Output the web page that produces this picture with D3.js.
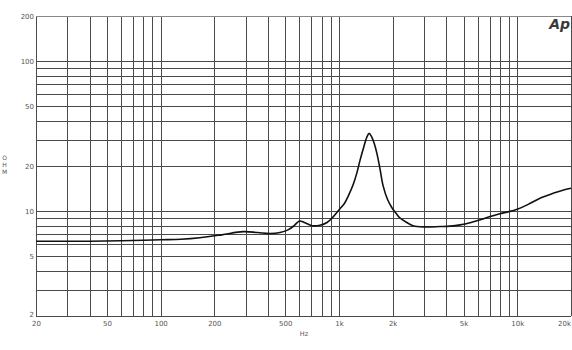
<!DOCTYPE html>
<html>
<head>
<meta charset="utf-8">
<script src="https://cdn.jsdelivr.net/npm/d3@7"></script>
<style>
  body { margin: 0; background: #fff; }
  svg { display: block; }
</style>
</head>
<body>
<div id="container"></div>
<script>
// impedance sweep
let freq = [20, 30, 40, 60, 80, 100, 130, 166, 220, 290, 350, 410, 467, 518, 560, 600, 640, 706, 782, 857, 930,
    1008, 1075, 1130, 1200, 1260, 1313, 1380, 1430, 1475, 1520, 1580, 1635, 1700, 1767, 1870, 1985, 2100, 2200,
    2400, 2600, 3000, 3690, 4200, 4776, 5500, 6200, 7030, 8000, 10000, 11500, 13400, 16000, 18000, 20000]
let ohm = [6.3, 6.3, 6.3, 6.35, 6.4, 6.45, 6.5, 6.65, 6.95, 7.3, 7.2, 7.1, 7.2, 7.5, 8.0, 8.6, 8.4, 8.0, 8.05, 8.4, 9.2,
    10.3, 11.3, 12.7, 15, 18, 21.9, 27, 31, 33, 31.5, 28, 24, 19, 14.8, 12.0, 10.5, 9.6, 9.0,
    8.4, 8.0, 7.85, 7.9, 7.95, 8.1, 8.4, 8.75, 9.2, 9.6, 10.3, 11.1, 12.2, 13.2, 13.8, 14.2]

let xTickVals = [20, 50, 100, 200, 500, 1000, 2000, 5000, 10000, 20000]
let xTickLabels = ["20", "50", "100", "200", "500", "1k", "2k", "5k", "10k", "20k"]
let yTickVals = [2, 5, 10, 20, 50, 100, 200]
let yTickLabels = ["2", "5", "10", "20", "50", "100", "200"]

let w = 572
let h = 350

let svg = d3.select("#container")
    .append("svg")
    .attr("width", w)
    .attr("height", h)

let x = d3.scaleLog().domain([20, 20000]).range([36, 571])
let y = d3.scaleLog().domain([2, 200]).range([316, 16])

let crisp = v => Math.round(v) + 0.5
let gridColor = "#4a4a4a"

// vertical grid
svg.append("g")
    .selectAll("line")
    .data(x.ticks())
    .join("line")
    .attr("x1", d => crisp(x(d)))
    .attr("x2", d => crisp(x(d)))
    .attr("y1", y(200))
    .attr("y2", y(2))
    .attr("stroke", gridColor)
    .attr("stroke-width", 1)

// horizontal grid
svg.append("g")
    .selectAll("line")
    .data(y.ticks())
    .join("line")
    .attr("x1", x(20))
    .attr("x2", x(20000))
    .attr("y1", d => crisp(y(d)))
    .attr("y2", d => crisp(y(d)))
    .attr("stroke", d => d == 200 ? "#888" : gridColor)
    .attr("stroke-width", 1)

// x tick labels
svg.append("g")
    .selectAll("text")
    .data(xTickVals)
    .join("text")
    .text((d, i) => xTickLabels[i])
    .attr("x", d => d == 20000 ? x(d) : x(d) + 0.5)
    .attr("y", 326)
    .attr("text-anchor", d => d == 20000 ? "end" : "middle")
    .attr("font-family", "DejaVu Sans, sans-serif")
    .attr("font-size", 7)
    .attr("fill", "#555")

// y tick labels
svg.append("g")
    .selectAll("text")
    .data(yTickVals)
    .join("text")
    .text((d, i) => yTickLabels[i])
    .attr("x", 34)
    .attr("y", d => d == 2 ? y(d) + 1 : y(d) + 2.5)
    .attr("text-anchor", "end")
    .attr("font-family", "DejaVu Sans, sans-serif")
    .attr("font-size", 7)
    .attr("fill", "#555")

svg.append("text")
    .text("Hz")
    .attr("x", 304)
    .attr("y", 336)
    .attr("text-anchor", "middle")
    .attr("font-family", "DejaVu Sans, sans-serif")
    .attr("font-size", 6.5)
    .attr("fill", "#555")

;["O", "H", "M"].forEach((c, i) => {
    svg.append("text")
        .text(c)
        .attr("x", 4.5)
        .attr("y", 160 + i * 7)
        .attr("text-anchor", "middle")
        .attr("font-family", "DejaVu Sans, sans-serif")
        .attr("font-size", 6)
        .attr("fill", "#555")
})

// Ap logo
svg.append("text")
    .text("Ap")
    .attr("x", 570)
    .attr("y", 29)
    .attr("text-anchor", "end")
    .attr("font-family", "DejaVu Sans, sans-serif")
    .attr("font-weight", "bold")
    .attr("font-style", "italic")
    .attr("font-size", 14)
    .attr("fill", "#3a3a3a")

let line = d3.line()
    .x((d, i) => x(freq[i]))
    .y(d => y(d))
    .curve(d3.curveCatmullRom.alpha(0.5))

svg.append("path")
    .datum(ohm)
    .attr("d", line)
    .attr("fill", "none")
    .attr("stroke", "#111")
    .attr("stroke-width", 1.6)
</script>
</body>
</html>
